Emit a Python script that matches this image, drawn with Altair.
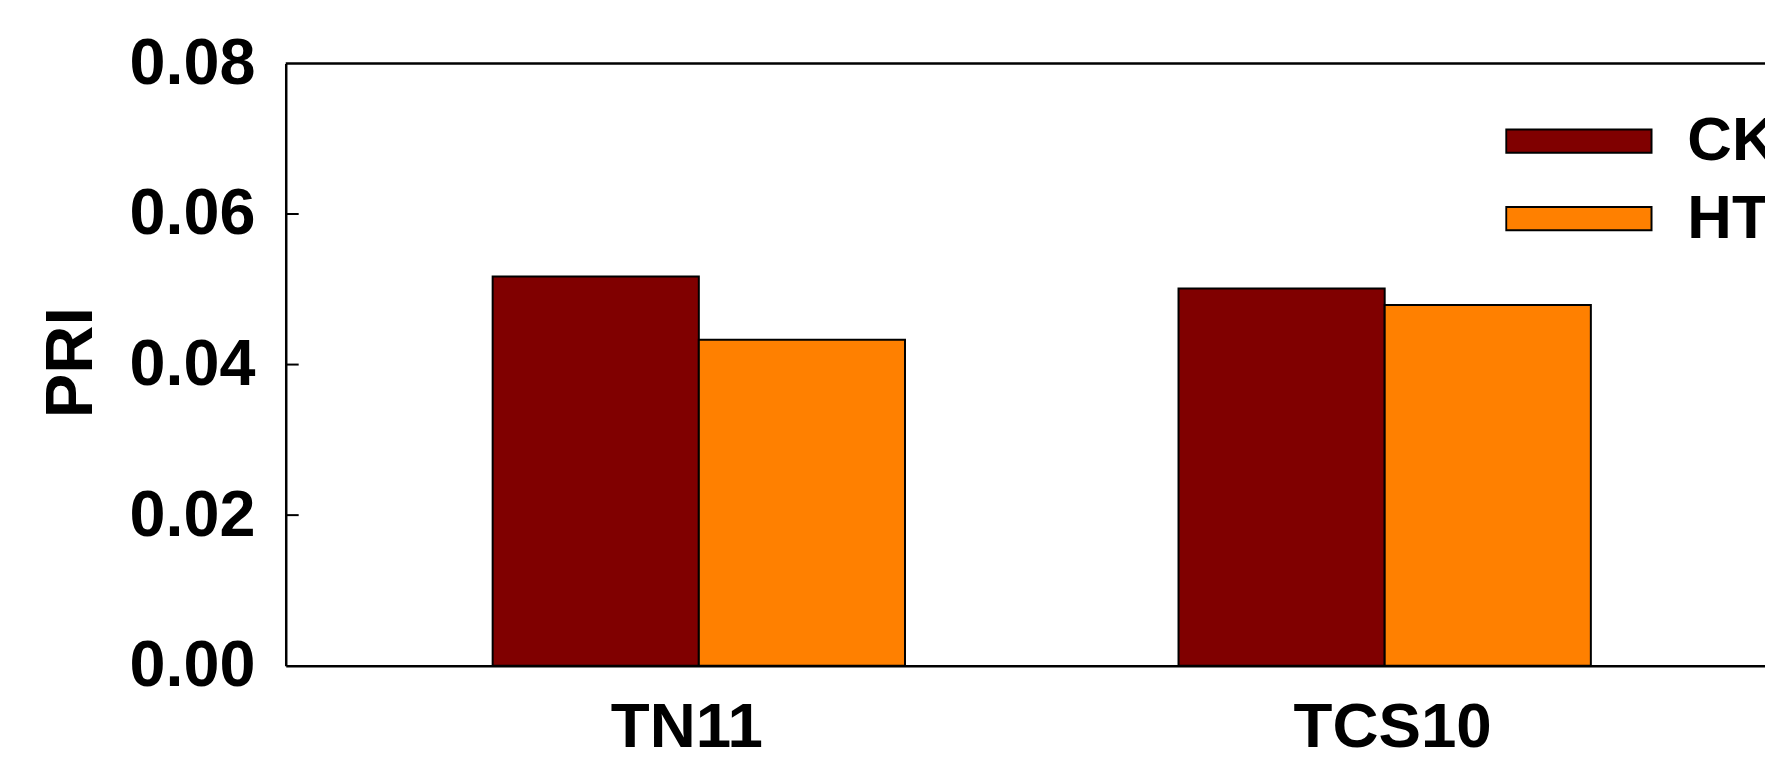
import altair as alt
import pandas as pd

categories = ["TN11", "TCS10"]
groups = ["CK", "HT"]
ck_values = [0.0517, 0.0501]
ht_values = [0.0433, 0.0479]
y_ticks = [0.00, 0.02, 0.04, 0.06, 0.08]
inner_ticks = [0.02, 0.04, 0.06]
colors = ["#800000", "#FF8000"]

rows = []
for i, c in enumerate(categories):
    rows.append({"cultivar": c, "treatment": groups[0], "PRI": ck_values[i]})
    rows.append({"cultivar": c, "treatment": groups[1], "PRI": ht_values[i]})
df = pd.DataFrame(rows)

W = 1486
H = 605
FONT = "Liberation Sans"

yscale = alt.Scale(domain=[0, 0.08], nice=False, zero=True)

yaxis = alt.Axis(
    values=y_ticks, format=".2f", ticks=False, grid=False,
    labelFont=FONT, labelFontWeight="bold", labelFontSize=65,
    labelColor="black", labelPadding=31, labelLimit=0, domainColor="black",
    domainWidth=2.5, title="PRI", titleFont=FONT, titleFontWeight="bold",
    titleFontSize=67, titleColor="black", titleAngle=270,
    titleAlign="center", titleBaseline="alphabetic",
    titleX=-195, titleY=300,
)

bars = alt.Chart(df).mark_bar(stroke="black", strokeWidth=2).encode(
    x=alt.X(
        "cultivar:N",
        sort=categories,
        scale=alt.Scale(paddingInner=0.3988, paddingOuter=0.2778, align=0.543),
        axis=alt.Axis(
            title=None, labelAngle=0, labelFont=FONT, labelFontWeight="bold",
            labelFontSize=64, labelColor="black", ticks=False, labelPadding=30,
            labelLimit=0, domainColor="black", domainWidth=2.5, grid=False,
            labelOffset={"condition": {"test": "datum.value === 'TN11'", "value": -12},
                         "value": 8},
        ),
    ),
    xOffset=alt.XOffset("treatment:N", sort=groups,
                        scale=alt.Scale(paddingInner=0, paddingOuter=0)),
    y=alt.Y("PRI:Q", scale=yscale, axis=yaxis, title="PRI"),
    color=alt.Color(
        "treatment:N",
        scale=alt.Scale(domain=groups, range=colors),
        legend=alt.Legend(
            title=None, orient="none", legendX=1225, legendY=48,
            symbolType="M-1,-0.16L1,-0.16L1,0.16L-1,0.16Z",
            symbolSize=21316, symbolStrokeColor="black", symbolStrokeWidth=2,
            symbolOpacity=1, labelFont=FONT, labelFontWeight="bold",
            labelFontSize=62, labelColor="black", labelOffset=35,
            labelLimit=0, clipHeight=60, rowPadding=16, padding=0,
        ),
    ),
)

ticks = alt.Chart(pd.DataFrame({"PRI": inner_ticks})).mark_rule(
    color="black", strokeWidth=2
).encode(
    y=alt.Y("PRI:Q", scale=yscale, title="PRI"),
    x=alt.value(0),
    x2=alt.value(13),
)

top = alt.Chart(pd.DataFrame({"a": [0]})).mark_rule(
    color="black", strokeWidth=2.5
).encode(
    x=alt.value(0), x2=alt.value(W), y=alt.value(0)
)

chart = alt.layer(bars, ticks, top).properties(
    width=W,
    height=H,
    autosize=alt.AutoSizeParams(type="none"),
    padding={"left": 279, "top": 54, "right": 0, "bottom": 84},
).configure_view(stroke=None)

chart.save("out.html", embed_options={"renderer": "svg", "actions": False})
